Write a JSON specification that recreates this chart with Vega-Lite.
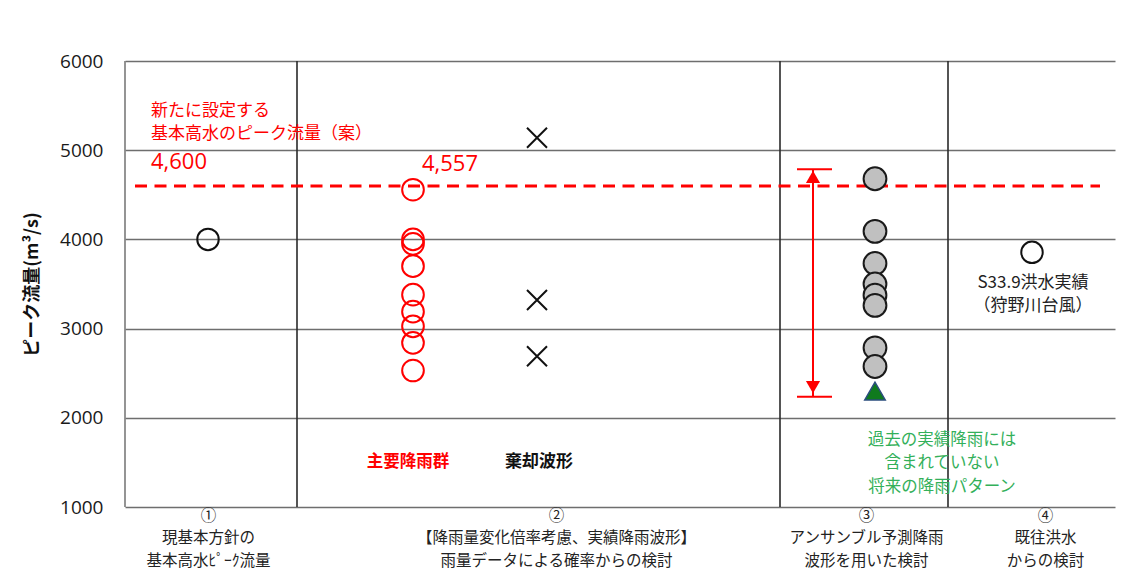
{
  "$schema": "https://vega.github.io/schema/vega-lite/v6.json",
  "width": 990,
  "height": 446,
  "autosize": {"type": "none"},
  "padding": {"left": 125, "top": 61, "right": 29, "bottom": 72},
  "background": "white",
  "config": {"view": {"stroke": null}, "font": "Noto Sans CJK JP"},
  "datasets": {
    "dividers": [
      {"x": 0, "y": 1000, "y2": 6000, "kind": "border"},
      {"x": 17.2, "y": 1000, "y2": 6000, "kind": "div"},
      {"x": 65.5, "y": 1000, "y2": 6000, "kind": "div"},
      {"x": 82.3, "y": 1000, "y2": 6000, "kind": "div"}
    ],
    "plan": [{"x": 1.0, "x2": 97.5, "y": 4600}],
    "open": [
      {"x": 8.3, "y": 4000, "group": "現基本方針"},
      {"x": 90.7, "y": 3855, "group": "S33.9洪水実績"}
    ],
    "main": [
      {"x": 28.8, "y": 4557}, {"x": 28.8, "y": 4000}, {"x": 28.8, "y": 3950},
      {"x": 28.8, "y": 3700}, {"x": 28.8, "y": 3380}, {"x": 28.8, "y": 3190},
      {"x": 28.8, "y": 3025}, {"x": 28.8, "y": 2840}, {"x": 28.8, "y": 2530}
    ],
    "rejected": [
      {"x": 41.2, "y": 5140}, {"x": 41.2, "y": 3320}, {"x": 41.2, "y": 2690}
    ],
    "ensemble": [
      {"x": 75.0, "y": 4680}, {"x": 75.0, "y": 4090}, {"x": 75.0, "y": 3730},
      {"x": 75.0, "y": 3500}, {"x": 75.0, "y": 3375}, {"x": 75.0, "y": 3260},
      {"x": 75.0, "y": 2785}, {"x": 75.0, "y": 2575}
    ],
    "future": [{"x": 75.0, "y": 2300}],
    "range": [{"x": 68.8, "y": 4786, "y2": 2236}],
    "caps": [
      {"x": 67.2, "x2": 70.7, "y": 4786},
      {"x": 67.2, "x2": 70.7, "y": 2236}
    ],
    "headUp": [{"x": 68.8, "y": 4700}],
    "headDown": [{"x": 68.8, "y": 2345}],
    "redNote": [
      {"x": 2.6, "y": 5445, "text": "新たに設定する"},
      {"x": 2.6, "y": 5185, "text": "基本高水のピーク流量（案）"}
    ],
    "redNum": [
      {"x": 2.6, "y": 4871, "text": "4,600"},
      {"x": 29.7, "y": 4845, "text": "4,557"}
    ],
    "redBold": [{"x": 28.3, "y": 1508, "text": "主要降雨群"}],
    "blackBold": [{"x": 41.4, "y": 1500, "text": "棄却波形"}],
    "greenNote": [
      {"x": 81.7, "y": 1751, "text": "過去の実績降雨には"},
      {"x": 81.7, "y": 1493, "text": "含まれていない"},
      {"x": 81.7, "y": 1224, "text": "将来の降雨パターン"}
    ],
    "flood": [
      {"x": 90.8, "y": 3515, "text": "S33.9洪水実績"},
      {"x": 90.8, "y": 3253, "text": "（狩野川台風）"}
    ]
  },
  "encoding": {
    "x": {
      "field": "x",
      "type": "quantitative",
      "scale": {"domain": [0, 99], "nice": false, "zero": false},
      "axis": {
        "values": [8.3, 43.1, 74.1, 92.0],
        "title": null,
        "domain": false,
        "ticks": false,
        "grid": false,
        "labelExpr": "datum.value < 20 ? ['①','現基本方針の','基本高水ﾋﾟｰｸ流量'] : datum.value < 60 ? ['②','【降雨量変化倍率考慮、実績降雨波形】','雨量データによる確率からの検討'] : datum.value < 80 ? ['③','アンサンブル予測降雨','波形を用いた検討'] : ['④','既往洪水','からの検討']",
        "labelFont": "Noto Sans CJK JP",
        "labelFontSize": 15.5,
        "labelLineHeight": 22.5,
        "labelBaseline": "top",
        "labelPadding": 1,
        "labelColor": "#222222",
        "labelOverlap": false,
        "labelFlush": false,
        "labelBound": false,
        "labelLimit": 0
      }
    },
    "y": {
      "field": "y",
      "type": "quantitative",
      "scale": {"domain": [1000, 6000], "nice": false, "zero": false},
      "axis": {
        "values": [1000, 2000, 3000, 4000, 5000, 6000],
        "format": "d",
        "title": "ピーク流量(m³/s)",
        "titleFont": "Noto Sans CJK JP",
        "titleFontSize": 18,
        "titleFontWeight": "bold",
        "titleColor": "#111111",
        "titlePadding": 18,
        "domain": false,
        "ticks": false,
        "grid": true,
        "gridColor": "#6e6e6e",
        "gridWidth": 1.6,
        "labelFont": "Open Sans",
        "labelFontSize": 19,
        "labelColor": "#1a1a1a",
        "labelPadding": 22
      }
    }
  },
  "layer": [
    {
      "data": {"name": "dividers"},
      "transform": [{"filter": "datum.kind == 'border'"}],
      "mark": {"type": "rule", "stroke": "#7a7a7a", "strokeWidth": 1.6},
      "encoding": {"y2": {"field": "y2"}}
    },
    {
      "data": {"name": "dividers"},
      "transform": [{"filter": "datum.kind == 'div'"}],
      "mark": {"type": "rule", "stroke": "#2a2a2a", "strokeWidth": 1.6},
      "encoding": {"y2": {"field": "y2"}}
    },
    {
      "data": {"name": "plan"},
      "mark": {"type": "rule", "stroke": "#ff0000", "strokeWidth": 3, "strokeDash": [12, 7.5]},
      "encoding": {"x2": {"field": "x2"}}
    },
    {
      "data": {"name": "range"},
      "mark": {"type": "rule", "stroke": "#ff0000", "strokeWidth": 2},
      "encoding": {"y2": {"field": "y2"}}
    },
    {
      "data": {"name": "caps"},
      "mark": {"type": "rule", "stroke": "#ff0000", "strokeWidth": 2},
      "encoding": {"x2": {"field": "x2"}}
    },
    {
      "data": {"name": "headUp"},
      "mark": {"type": "point", "shape": "triangle-up", "filled": true, "fill": "#ff0000", "size": 200, "opacity": 1}
    },
    {
      "data": {"name": "headDown"},
      "mark": {"type": "point", "shape": "triangle-down", "filled": true, "fill": "#ff0000", "size": 200, "opacity": 1}
    },
    {
      "data": {"name": "open"},
      "mark": {"type": "point", "shape": "circle", "filled": false, "stroke": "#111111", "strokeWidth": 2, "size": 460, "opacity": 1}
    },
    {
      "data": {"name": "main"},
      "mark": {"type": "point", "shape": "circle", "filled": false, "stroke": "#ff0000", "strokeWidth": 2, "size": 470, "opacity": 1}
    },
    {
      "data": {"name": "rejected"},
      "mark": {"type": "point", "shape": "M-1,-1L1,1M-1,1L1,-1", "filled": false, "stroke": "#111111", "strokeWidth": 2, "size": 400, "opacity": 1}
    },
    {
      "data": {"name": "ensemble"},
      "mark": {"type": "point", "shape": "circle", "filled": true, "fill": "#c0c0c0", "stroke": "#1a1a1a", "strokeWidth": 2, "size": 520, "opacity": 1}
    },
    {
      "data": {"name": "future"},
      "mark": {"type": "point", "shape": "triangle-up", "filled": true, "fill": "#0f7a1e", "stroke": "#2b4d7e", "strokeWidth": 1.5, "size": 420, "opacity": 1}
    },
    {
      "data": {"name": "redNote"},
      "mark": {"type": "text", "align": "left", "baseline": "middle", "color": "#ff0000", "fontSize": 17, "font": "Noto Sans CJK JP"},
      "encoding": {"text": {"field": "text"}}
    },
    {
      "data": {"name": "redNum"},
      "mark": {"type": "text", "align": "left", "baseline": "middle", "color": "#ff0000", "fontSize": 22, "font": "Open Sans"},
      "encoding": {"text": {"field": "text"}}
    },
    {
      "data": {"name": "redBold"},
      "mark": {"type": "text", "align": "center", "baseline": "middle", "color": "#ff0000", "fontSize": 16.5, "fontWeight": "bold", "font": "Noto Sans CJK JP"},
      "encoding": {"text": {"field": "text"}}
    },
    {
      "data": {"name": "blackBold"},
      "mark": {"type": "text", "align": "center", "baseline": "middle", "color": "#111111", "fontSize": 17, "fontWeight": "bold", "font": "Noto Sans CJK JP"},
      "encoding": {"text": {"field": "text"}}
    },
    {
      "data": {"name": "greenNote"},
      "mark": {"type": "text", "align": "center", "baseline": "middle", "color": "#33b05a", "fontSize": 16.5, "font": "Noto Sans CJK JP"},
      "encoding": {"text": {"field": "text"}}
    },
    {
      "data": {"name": "flood"},
      "mark": {"type": "text", "align": "center", "baseline": "middle", "color": "#222222", "fontSize": 17, "font": "Noto Sans CJK JP"},
      "encoding": {"text": {"field": "text"}}
    }
  ]
}
